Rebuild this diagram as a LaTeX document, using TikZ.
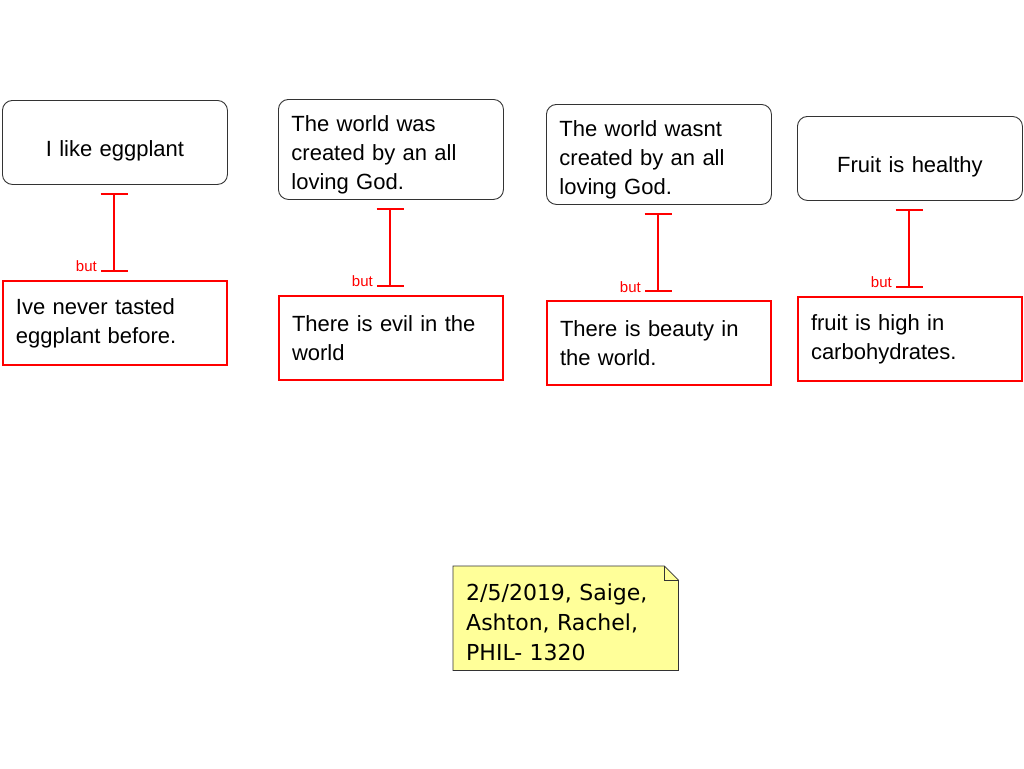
\documentclass[tikz,border=0pt]{standalone}
\usepackage{fontspec}
\setmainfont{Liberation Sans}
\newfontfamily\notefont{DejaVu Sans}
\usetikzlibrary{arrows.meta,backgrounds}
\definecolor{notefill}{RGB}{255,255,153}
\begin{document}
\begin{tikzpicture}[x=1pt,y=-1pt,
  claim/.style={draw=black!80, line width=0.9pt, rounded corners=10pt, fill=white,
    text width=199pt, inner xsep=13pt, inner ysep=0pt, minimum height=#1,
    font=\fontsize{22}{29}\selectfont, anchor=north west},
  claim/.default=84pt,
  objection/.style={draw=red, line width=2pt, fill=white,
    text width=198pt, inner xsep=13pt, inner ysep=0pt, minimum height=84pt,
    font=\fontsize{22}{29}\selectfont, align=left, anchor=north west},
  butlink/.style={draw=red, line width=2pt, {Bar[width=27pt,line width=2pt]}-{Bar[width=27pt,line width=2pt]},
    shorten <=8.5pt, shorten >=8.5pt},
  butlabel/.style={text=red, font=\fontsize{15}{17}\selectfont, inner sep=0pt},
  note/.style={text width=199pt, inner xsep=13pt, inner ysep=0pt, minimum height=104pt,
    font=\notefont\fontsize{22}{30}\selectfont, align=left, anchor=north west}
]
\useasboundingbox (0,0) rectangle (1024,768);

% column 1
\node[claim, align=center, text height=32pt] (t1) at (2,100) {I like eggplant};
\node[objection] (b1) at (2,280) {Ive never tasted\\eggplant before.};
\draw[butlink] (t1.south -| 114,0) -- (b1.north -| 114,0);
\node[butlabel, anchor=east] (l1) at (97,266) {but};

% column 2
\node[claim=100pt, align=left, text height=26pt] (t2) at (278,99) {The world was\\created by an all\\loving God.};
\node[objection] (b2) at (278,295) {There is evil in the\\world};
\draw[butlink] (t2.south -| 390,0) -- (b2.north -| 390,0);
\node[butlabel, anchor=east] (l2) at (373,281) {but};

% column 3
\node[claim=100pt, align=left, text height=26pt] (t3) at (546,104) {The world wasnt\\created by an all\\loving God.};
\node[objection] (b3) at (546,300) {There is beauty in\\the world.};
\draw[butlink] (t3.south -| 658,0) -- (b3.north -| 658,0);
\node[butlabel, anchor=east] (l3) at (641,287) {but};

% column 4
\node[claim, align=center, text height=32pt] (t4) at (797,116) {Fruit is healthy};
\node[objection] (b4) at (797,296) {fruit is high in\\carbohydrates.};
\draw[butlink] (t4.south -| 909,0) -- (b4.north -| 909,0);
\node[butlabel, anchor=east] (l4) at (892,282) {but};

% note
\node[note, text height=24pt] (n) at (453,566) {2/5/2019, Saige,\\Ashton, Rachel,\\PHIL- 1320};
\begin{scope}[on background layer]
\draw[black!80, line width=0.8pt, fill=notefill]
  (n.north west) -- ([xshift=-14pt]n.north east) -- ([yshift=-14pt]n.north east)
  -- (n.south east) -- (n.south west) -- cycle;
\draw[black!80, line width=0.8pt]
  ([xshift=-14pt]n.north east) -- ([xshift=-14pt,yshift=-14pt]n.north east) -- ([yshift=-14pt]n.north east);
\end{scope}
\end{tikzpicture}
\end{document}
